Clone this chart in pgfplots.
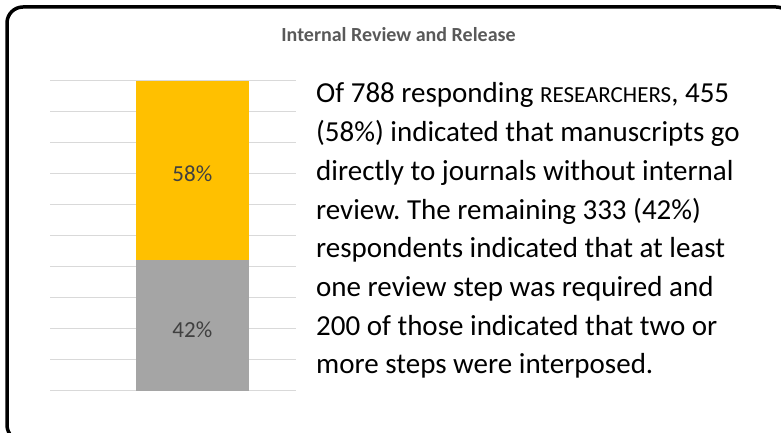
\documentclass[border=0pt]{standalone}
\usepackage{pgfplots}
\pgfplotsset{compat=1.18}
\usepackage{fontspec}
\setmainfont{Carlito}
\frenchspacing
\definecolor{baryellow}{HTML}{FFC000}
\definecolor{bargray}{HTML}{A5A5A5}
\definecolor{gridgray}{HTML}{D9D9D9}
\definecolor{titlegray}{HTML}{595959}
\definecolor{labelgray}{HTML}{404040}
\begin{document}
\begin{tikzpicture}[x=1bp,y=1bp]
\useasboundingbox (0,0) rectangle (781,433);
\begin{scope}
\clip (0,0) rectangle (781,433);
\draw[line width=3.5bp, rounded corners=16bp] (7,-8) rectangle (792,426);
\end{scope}
\node[anchor=base, inner sep=0pt, font=\fontsize{20bp}{24bp}\selectfont\bfseries, text=titlegray] at (398.5,391) {Internal Review and Release};
\begin{axis}[
  at={(50bp,42.3bp)}, anchor=south west,
  scale only axis, width=245.7bp, height=310bp,
  xmin=0, xmax=245.7, ymin=0, ymax=100,
  ytick={0,10,...,100}, xtick=\empty, yticklabels={},
  ymajorgrids, grid style={gridgray, line width=1.2bp},
  axis line style={draw=none}, major tick style={draw=none},
  ybar stacked, bar width=113.3bp,
  clip=false,
]
\addplot[fill=bargray, draw=none] coordinates {(142.35,42)};
\addplot[fill=baryellow, draw=none] coordinates {(142.35,58)};
\coordinate (lowlab) at (axis cs:142.35,19.6);
\coordinate (highlab) at (axis cs:142.35,70.1);
\end{axis}
\node[font=\fontsize{23bp}{24bp}\selectfont, text=labelgray] at (lowlab) {42\%};
\node[font=\fontsize{23bp}{24bp}\selectfont, text=labelgray] at (highlab) {58\%};
\begin{scope}[every node/.style={anchor=base west, inner sep=0pt, font=\fontsize{29bp}{32bp}\selectfont}]
\node at (316,330) {Of 788 responding {\fontsize{23bp}{24bp}\selectfont RESEARCHERS}, 455};
\node at (316,291.3) {(58\%) indicated that manuscripts go};
\node at (316,252.6) {directly to journals without internal};
\node at (316,213.9) {review. The remaining 333 (42\%)};
\node at (316,175.2) {respondents indicated that at least};
\node at (316,136.5) {one review step was required and};
\node at (316,97.8) {200 of those indicated that two or};
\node at (316,59.1) {more steps were interposed.};
\end{scope}
\end{tikzpicture}
\end{document}
